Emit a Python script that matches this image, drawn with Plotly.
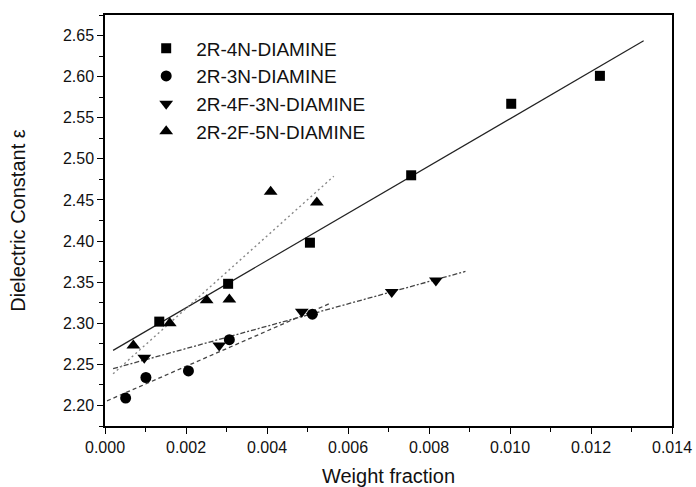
import numpy as np
import plotly.graph_objects as go

# Measured dielectric constant vs. weight fraction for four diamines
names = ["2R-4N-DIAMINE", "2R-3N-DIAMINE", "2R-4F-3N-DIAMINE", "2R-2F-5N-DIAMINE"]

x_4n = [0.00134, 0.00304, 0.00506, 0.00756, 0.01003, 0.01222]
y_4n = [2.302, 2.348, 2.398, 2.480, 2.567, 2.601]

x_3n = [0.00051, 0.00101, 0.00206, 0.00307, 0.00512]
y_3n = [2.209, 2.234, 2.242, 2.280, 2.311]

x_4f3n = [0.00097, 0.00282, 0.00486, 0.00708, 0.00817]
y_4f3n = [2.258, 2.273, 2.314, 2.338, 2.352]

x_2f5n = [0.00070, 0.00160, 0.00251, 0.00307, 0.00409, 0.00523]
y_2f5n = [2.273, 2.300, 2.328, 2.329, 2.460, 2.447]

# x-span over which each linear fit is drawn
fit_span_4n = [0.0002, 0.0133]
fit_span_3n = [0.00005, 0.00555]
fit_span_4f3n = [0.0002, 0.0089]
fit_span_2f5n = [0.0002, 0.00565]

series = [
    (names[0], x_4n, y_4n, fit_span_4n, "square", 10, dict(color="#222", width=1.2, dash="solid")),
    (names[1], x_3n, y_3n, fit_span_3n, "circle", 11, dict(color="#444", width=1.3, dash="4px,3px")),
    (names[2], x_4f3n, y_4f3n, fit_span_4f3n, "triangle-down", 12, dict(color="#444", width=1.3, dash="5px,2px,2px,2px")),
    (names[3], x_2f5n, y_2f5n, fit_span_2f5n, "triangle-up", 12, dict(color="#888", width=1.4, dash="2px,3px")),
]

FONT = "Liberation Sans, Arial"

fig = go.Figure()

for name, xs, ys, span, sym, size, line in series:
    slope, intercept = np.polyfit(xs, ys, 1)
    fx = np.array(span)
    fig.add_trace(go.Scatter(
        x=fx, y=slope * fx + intercept, mode="lines",
        line=line, showlegend=False, hoverinfo="skip",
    ))

for name, xs, ys, span, sym, size, line in series:
    fig.add_trace(go.Scatter(
        x=xs, y=ys, mode="markers", name=name,
        marker=dict(symbol=sym, size=size, color="black", line=dict(width=0)),
    ))

axis_common = dict(
    showline=True, linecolor="black", linewidth=1.5, mirror=True,
    ticks="outside", ticklen=6, tickwidth=1.3, tickcolor="black",
    showgrid=False, zeroline=False, automargin=False,
    tickfont=dict(family=FONT, size=16, color="#111"),
)

fig.update_xaxes(
    range=[0, 0.014], dtick=0.002, tick0=0, tickformat=".3f",
    minor=dict(ticks="outside", ticklen=4, tickwidth=1.2, tickcolor="black", dtick=0.001),
    title=dict(text="Weight fraction", font=dict(family=FONT, size=20, color="#111"), standoff=16),
    **axis_common,
)
fig.update_yaxes(
    range=[2.175, 2.675], dtick=0.05, tick0=2.2, tickformat=".2f",
    minor=dict(ticks="outside", ticklen=4, tickwidth=1.2, tickcolor="black", dtick=0.025),
    title=dict(text="Dielectric Constant ε", font=dict(family=FONT, size=20, color="#111"), standoff=32),
    **axis_common,
)

fig.update_layout(
    width=696, height=487,
    margin=dict(l=105, r=24, t=15, b=61),
    paper_bgcolor="white", plot_bgcolor="white",
    showlegend=True,
    legend=dict(
        x=0.055, y=0.965, xanchor="left", yanchor="top",
        font=dict(family=FONT, size=19, color="#111"),
        itemwidth=50, bgcolor="rgba(0,0,0,0)", borderwidth=0,
        tracegroupgap=0,
    ),
)

fig.write_html("out.html")
